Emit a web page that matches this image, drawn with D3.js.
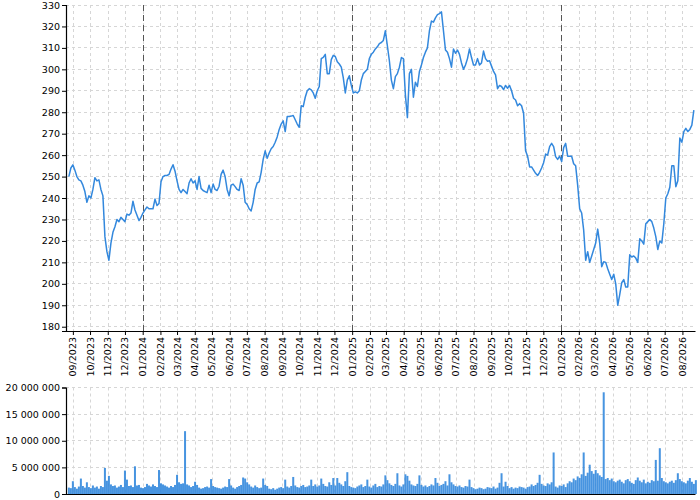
<!DOCTYPE html>
<html><head><meta charset="utf-8">
<script src="https://cdn.jsdelivr.net/npm/d3@7"></script>
<style>body{margin:0;background:#fff}svg{display:block;font-family:"DejaVu Sans",sans-serif}</style>
</head><body><svg id="c" width="700" height="500"></svg>
<script>
// prices, twice a week from 2023-08-25
const priceValues = [
250,254,255.5,253,250,248.5,248,246,243,238, 241,240,244,249.5,248,248.5,244,241,222,215,
211,219,224,226.6,230,229,231,230,229,232.5, 232,233,238.5,234.4,232,229.5,231,233,234.5,235.8,
235,235,235,239.5,236.5,237.5,247.6,250,250.5,250.5, 251,253.5,255.5,252.5,248,244,242.5,244,243,242,
247,249,247,248,244,250,244.5,243.5,243,242.5, 246,242.5,246.5,244,243.5,245.5,251,253,250,244,
241,246,246.5,245.3,244,243.5,249,246,238,237, 235,234,238,244,247,247.5,252,258,262,258.5,
261,263,264,266,268.5,272,274.5,276,271,278, 278,278.2,278.5,276.5,274.5,273,283,282.6,287,290,
291,290.4,289,286.5,290,292,305,305.6,307,298, 298,304.5,306.5,306,303.5,302.5,301,296,289,295,
297,292.5,289,289.5,289,290,295,298,299,300, 305,307,308,309.5,310.5,312,312.5,313.5,318,311,
304,295,291,296.6,298,301,305.5,305,288,277.5, 298,300,287,294,292,299,302,305.5,308,310,
318,322.5,322,324,325.5,326,326.8,318,309,308, 305,301,309.5,307.5,309,307,303,300,302,305,
309.5,305.5,302,302,305,302,303,308.5,305,303.8, 304,301.5,299,297.4,291,292.5,292,290.5,292.5,291.2,
292.5,290,286.5,285.7,283,284,283,279.5,262,259.5, 254.5,254.5,253,251.5,250.5,252,254,256.5,260.5,260,
264,265.5,264,259.3,258,259.5,257,263.5,265.5,259.5, 259.5,259.5,256,255,246,235,233,225,211,215,
210,213,216,219,225.5,219,208,210.3,210,207, 204.5,202,204.5,200,190,195,200.5,202,198.5,198.5,
213.5,212.5,213,212,210,221,220,218.5,228,229, 230,229,226,222,216,220,219,228,240,242,
245,255,255,245.3,248,268,266,271,272.5,271, 272,274,281
];
// volume (millions), same twice-weekly sampling
const volumeValues = [
1.2,1.1,2.4,1.3,1.0,1.4,2.9,1.5,1.2,2.2, 1.3,1.1,1.6,1.2,1.4,1.0,1.5,1.3,4.9,2.5,
3.4,1.8,1.5,1.6,1.2,1.4,1.7,1.3,4.4,2.7, 1.5,1.6,1.3,5.2,1.6,1.7,1.2,1.1,1.3,1.9,
1.6,1.4,1.8,1.5,1.3,4.5,2.0,1.8,1.6,1.4, 1.2,1.5,1.3,1.7,3.6,2.2,1.9,2.0,11.8,1.8,
1.6,1.3,1.5,2.3,1.7,1.2,1.0,1.1,1.3,1.4, 1.2,2.8,1.5,1.3,1.2,1.1,1.0,1.2,1.4,1.3,
2.8,1.6,1.2,1.0,1.3,1.5,1.7,3.1,2.9,2.2, 1.8,1.4,1.2,1.6,1.3,1.1,1.2,2.9,1.7,1.5,
1.0,0.9,1.1,0.8,1.0,1.2,1.3,1.1,2.7,1.4, 1.2,1.5,3.2,1.6,1.3,1.2,1.5,1.7,1.3,1.4,
1.6,2.7,1.5,1.8,1.4,1.6,2.9,1.9,1.5,1.4, 2.2,1.7,3.0,1.6,3.0,2.1,1.8,1.5,2.4,4.1,
1.5,1.3,1.2,1.1,1.4,1.6,1.8,1.3,1.5,2.7, 1.4,1.2,1.6,1.9,1.3,1.5,1.4,1.8,3.5,2.6,
2.0,1.7,1.5,1.9,3.9,1.6,1.4,1.8,3.7,3.4, 2.5,1.8,1.6,1.5,1.9,3.5,1.7,1.4,1.6,1.3,
1.5,1.8,1.6,3.0,2.1,1.5,1.7,1.9,2.4,1.6, 3.7,2.2,1.8,1.5,1.4,1.6,1.3,1.2,1.5,1.4,
2.7,1.3,1.1,0.9,1.0,1.2,1.1,0.9,1.0,1.3, 1.2,1.1,1.4,1.0,1.2,2.1,3.9,1.4,2.3,1.5,
1.1,1.3,1.0,1.2,1.1,1.4,1.3,1.2,1.0,1.3, 1.4,1.8,1.5,1.7,2.1,3.6,1.9,1.6,1.5,2.0,
1.8,2.2,7.8,1.4,1.2,1.6,1.5,1.8,1.3,2.0, 2.4,2.2,2.9,2.6,3.3,3.0,3.7,7.8,3.4,4.0,
5.5,4.3,3.8,4.5,3.9,3.5,3.2,19.1,2.8,3.0, 2.6,2.9,2.4,2.2,2.5,2.7,2.3,2.0,2.6,2.8,
2.4,2.1,1.9,2.6,3.1,2.5,2.2,2.7,2.0,2.3, 2.1,2.6,2.4,6.4,2.5,8.6,3.0,2.4,2.2,2.0,
2.3,2.5,2.1,2.6,3.9,2.8,2.4,2.2,2.0,2.5, 3.0,2.3,1.9,2.6
];
const priceTicks = d3.range(180, 331, 10);
const volumeTicks = [0, 5e6, 10e6, 15e6, 20e6];
const yearMarks = [new Date(2024,0,1), new Date(2025,0,1), new Date(2026,0,1)];

const firstDay = new Date(2023,7,25);
const sampleDate = i => d3.timeHour.offset(firstDay, 84*i);
const price = priceValues.map((v,i)=>({d: sampleDate(i), v}));
const volume = volumeValues.map((v,i)=>({d: sampleDate(i), v: v*1e6}));

const svg = d3.select("#c");
const L = 66, R = 695;
const x = d3.scaleTime().domain([new Date(2023,7,20), new Date(2026,7,23)]).range([L, R]);
const y = d3.scaleLinear().domain([178, 330]).range([331, 5]);
const yv = d3.scaleLinear().domain([0, 20e6]).range([494, 387.5]);
const months = d3.timeMonth.range(new Date(2023,8,1), new Date(2026,7,2));
const gridCol = "#d6d6d6";

function grid(g, ys, ysc, top, bottom){
  g.selectAll(".h").data(ys).join("line").attr("x1",L).attr("x2",R)
    .attr("y1",d=>ysc(d)).attr("y2",d=>ysc(d))
    .attr("stroke",gridCol).attr("stroke-dasharray","3,3").attr("shape-rendering","crispEdges");
  g.selectAll(".v").data(months).join("line").attr("y1",top).attr("y2",bottom)
    .attr("x1",d=>Math.round(x(d))+0.5).attr("x2",d=>Math.round(x(d))+0.5)
    .attr("stroke",gridCol).attr("stroke-dasharray","3,3");
}
grid(svg.append("g"), priceTicks, y, 5, 331);
grid(svg.append("g"), volumeTicks, yv, 387.5, 494);

svg.append("g").selectAll("line").data(yearMarks).join("line")
  .attr("x1",d=>Math.round(x(d))+0.5).attr("x2",d=>Math.round(x(d))+0.5)
  .attr("y1",5).attr("y2",331).attr("stroke","#555").attr("stroke-dasharray","6,4");

// price line
svg.append("path").datum(price)
  .attr("d", d3.line().x(p=>x(p.d)).y(p=>y(p.v)))
  .attr("fill","none").attr("stroke","#3388dd").attr("stroke-width",1.5).attr("stroke-linejoin","round");

// volume bars
svg.append("g").selectAll("rect").data(volume).join("rect")
  .attr("x",p=>x(p.d)-1).attr("width",2)
  .attr("y",p=>yv(p.v)).attr("height",p=>yv(0)-yv(p.v))
  .attr("fill","#3388dd").attr("fill-opacity",0.9);

// axes
const fs = "9.5px";
const ya = svg.append("g").attr("transform",`translate(${L},0)`)
  .call(d3.axisLeft(y).tickValues(priceTicks).tickSize(4).tickPadding(2));
const va = svg.append("g").attr("transform",`translate(${L},0)`)
  .call(d3.axisLeft(yv).tickValues(volumeTicks).tickSize(4).tickPadding(2)
    .tickFormat(v=>d3.format(",")(v).replace(/,/g," ")));
const xa = svg.append("g").attr("transform","translate(0,331)")
  .call(d3.axisBottom(x).tickValues(months).tickFormat(d3.timeFormat("%m/%Y")).tickSize(4).tickSizeOuter(0));
xa.selectAll("text").attr("transform","rotate(-90)").attr("text-anchor","end")
  .attr("x",-6).attr("y",0).attr("dy","0.32em");
const xb = svg.append("g").attr("transform","translate(0,494)")
  .call(d3.axisBottom(x).tickValues([]).tickSizeOuter(0));
[ya,va,xa,xb].forEach(g=>{
  g.selectAll("text").attr("font-size",fs).attr("fill","#000").attr("font-family","DejaVu Sans");
  g.select(".domain").attr("stroke","#000").attr("stroke-width",1.2);
});
</script></body></html>
